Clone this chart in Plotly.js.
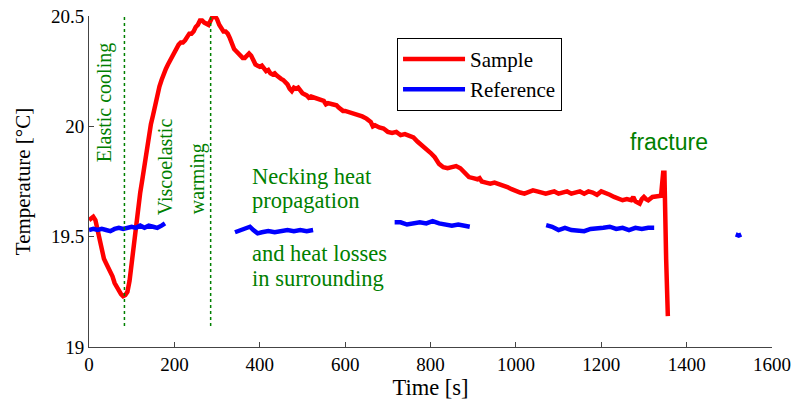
<!DOCTYPE html>
<html>
<head>
<meta charset="utf-8">
<script src="https://cdn.plot.ly/plotly-3.0.1.min.js"></script>
<style>html,body{margin:0;padding:0;background:#fff;}#chart{width:799px;height:401px;}</style>
</head>
<body>
<div id="chart"></div>
<script>
// Sample (red) temperature [°C] vs time [s]
const sampleTime = [0,5,10,15,20,25,30,35,40,45,50,55,60,65,70,75,80,85,90,95,100,105,110,115,120,125,130,135,140,145,150,155,160,165,170,175,180,185,190,195,200,205,210,215,220,225,230,235,240,245,250,255,260,265,270,275,280,285,290,295,300,305,310,315,320,325,330,335,340,345,350,355,360,365,370,375,380,385,390,395,400,405,410,415,420,425,430,435,440,445,450,455,460,465,470,475,480,485,490,495,500,510,515,520,530,540,545,550,555,560,570,575,580,585,590,595,600,610,620,630,640,650,660,665,670,680,690,700,710,720,730,740,750,760,770,780,790,800,810,815,820,830,840,850,860,870,880,890,900,910,915,920,930,940,950,960,970,980,990,1000,1010,1020,1030,1040,1050,1060,1070,1080,1090,1100,1110,1120,1130,1140,1150,1160,1170,1180,1190,1200,1210,1220,1230,1240,1250,1260,1270,1275,1280,1285,1290,1295,1300,1305,1310,1320,1330,1340,1345,1348,1352,1356];
const sampleTemp = [19.575,19.585,19.59,19.575,19.53,19.48,19.45,19.40,19.38,19.36,19.35,19.32,19.29,19.27,19.26,19.24,19.23,19.235,19.25,19.30,19.38,19.47,19.56,19.64,19.70,19.76,19.83,19.89,19.95,20.01,20.05,20.10,20.14,20.18,20.21,20.24,20.26,20.28,20.30,20.32,20.34,20.35,20.37,20.38,20.38,20.39,20.41,20.42,20.42,20.43,20.45,20.46,20.48,20.48,20.47,20.465,20.46,20.48,20.50,20.50,20.485,20.46,20.44,20.43,20.43,20.42,20.40,20.37,20.35,20.34,20.33,20.315,20.31,20.31,20.32,20.33,20.32,20.30,20.28,20.275,20.27,20.275,20.26,20.25,20.255,20.24,20.235,20.24,20.23,20.22,20.215,20.21,20.20,20.19,20.17,20.16,20.175,20.17,20.175,20.16,20.15,20.14,20.13,20.135,20.13,20.125,20.12,20.115,20.10,20.105,20.10,20.10,20.095,20.085,20.075,20.07,20.07,20.065,20.06,20.05,20.045,20.035,20.02,20.00,20.005,19.995,19.99,19.975,19.97,19.975,19.96,19.965,19.955,19.95,19.93,19.915,19.90,19.88,19.86,19.84,19.83,19.815,19.81,19.815,19.82,19.81,19.79,19.77,19.765,19.76,19.765,19.75,19.745,19.74,19.745,19.74,19.73,19.725,19.715,19.705,19.70,19.695,19.70,19.71,19.705,19.70,19.695,19.70,19.705,19.695,19.70,19.705,19.695,19.70,19.705,19.695,19.705,19.70,19.69,19.705,19.70,19.69,19.68,19.675,19.665,19.67,19.665,19.68,19.66,19.655,19.65,19.67,19.68,19.67,19.665,19.68,19.68,19.685,19.79,19.79,19.40,19.14];

// Reference (blue) temperature: measured segments separated by gaps (null)
const refTime = [0,10,20,30,40,50,60,70,80,90,100,110,120,130,140,150,160,170,178,null,
  342,350,360,370,377,385,395,405,420,435,450,465,480,495,510,525,null,
  716,730,745,760,775,790,805,820,835,850,865,880,892,null,
  1071,1085,1100,1115,1130,1145,1160,1175,1190,1205,1220,1235,1250,1265,1280,1295,1310,1324,null,
  1515,1522,1528];
const refTemp = [19.53,19.535,19.53,19.535,19.53,19.525,19.535,19.54,19.535,19.54,19.545,19.54,19.55,19.54,19.55,19.545,19.54,19.55,19.56,null,
  19.52,19.525,19.53,19.54,19.545,19.53,19.515,19.52,19.525,19.52,19.525,19.53,19.525,19.53,19.525,19.53,null,
  19.565,19.565,19.555,19.56,19.565,19.56,19.57,19.56,19.555,19.55,19.555,19.55,19.545,null,
  19.552,19.545,19.53,19.54,19.53,19.525,19.525,19.535,19.535,19.54,19.545,19.535,19.54,19.53,19.54,19.535,19.54,19.54,null,
  19.51,19.505,19.51];

// Phase boundary markers (dotted vertical lines)
const phaseTimes = [83, 285];
const phaseRange = [19.095, 20.5];

const xTicks = [0,200,400,600,800,1000,1200,1400,1600];
const yTicks = [19,19.5,20,20.5];
const yTickText = ['19','19.5','20','20.5'];

const green = 'rgb(0,128,0)';
const serif = 'Liberation Serif, Times New Roman, serif';
const sans = 'Liberation Sans, Arial, sans-serif';

const traces = [
  {x: sampleTime, y: sampleTemp, mode: 'lines', name: 'Sample',
   line: {color: 'rgb(255,0,0)', width: 4.5}},
  {x: refTime, y: refTemp, mode: 'lines', name: 'Reference', connectgaps: false,
   line: {color: 'rgb(0,0,255)', width: 4.5}}
];
phaseTimes.forEach(t => traces.push({
  x: [t, t], y: phaseRange, mode: 'lines', showlegend: false, hoverinfo: 'skip',
  line: {color: green, width: 1.5, dash: 'dot'}
}));

const annFont = {family: serif, size: 20, color: green};
const annFontH = {family: serif, size: 22.5, color: green};
const layout = {
  width: 799, height: 401,
  margin: {l: 89, r: 27, t: 16, b: 54},
  paper_bgcolor: '#fff', plot_bgcolor: '#fff',
  font: {family: serif, size: 19, color: '#000'},
  xaxis: {range: [0, 1600], tickvals: xTicks, ticks: 'inside', ticklen: 5, tickcolor: '#444',
    showline: true, linecolor: '#444', linewidth: 1, showgrid: false, zeroline: false,
    tickfont: {family: serif, size: 19, color: '#000'},
    title: {text: 'Time [s]', font: {family: serif, size: 22.5, color: '#000'}, standoff: 0}},
  yaxis: {range: [19, 20.5], tickvals: yTicks, ticktext: yTickText, ticks: 'inside', ticklen: 5, tickcolor: '#444',
    showline: true, linecolor: '#444', linewidth: 1, showgrid: false, zeroline: false,
    tickfont: {family: serif, size: 19, color: '#000'},
    title: {text: 'Temperature [°C]', font: {family: serif, size: 21, color: '#000'}, standoff: 14}},
  showlegend: true,
  legend: {x: 0.451, y: 0.934, xanchor: 'left', yanchor: 'top', bgcolor: '#fff',
    bordercolor: '#000', borderwidth: 1, font: {family: serif, size: 21, color: '#000'}, itemwidth: 62},
  annotations: [
    {x: 35, y: 20.109, xref: 'x', yref: 'y', text: 'Elastic cooling', textangle: -90, showarrow: false, font: annFont},
    {x: 178, y: 19.819, xref: 'x', yref: 'y', text: 'Viscoelastic', textangle: -90, showarrow: false, font: annFont},
    {x: 253, y: 19.76, xref: 'x', yref: 'y', text: 'warming', textangle: -90, showarrow: false, font: annFont},
    {x: 376, y: 19.774, xref: 'x', yref: 'y', text: 'Necking heat', xanchor: 'left', showarrow: false, font: annFontH},
    {x: 376, y: 19.665, xref: 'x', yref: 'y', text: 'propagation', xanchor: 'left', showarrow: false, font: annFontH},
    {x: 376, y: 19.425, xref: 'x', yref: 'y', text: 'and heat losses', xanchor: 'left', showarrow: false, font: annFontH},
    {x: 376, y: 19.312, xref: 'x', yref: 'y', text: 'in surrounding', xanchor: 'left', showarrow: false, font: annFontH},
    {x: 1359, y: 19.928, xref: 'x', yref: 'y', text: 'fracture', showarrow: false,
     font: {family: sans, size: 23, color: green}}
  ]
};

Plotly.newPlot('chart', traces, layout, {displayModeBar: false, staticPlot: true});
</script>
</body>
</html>
